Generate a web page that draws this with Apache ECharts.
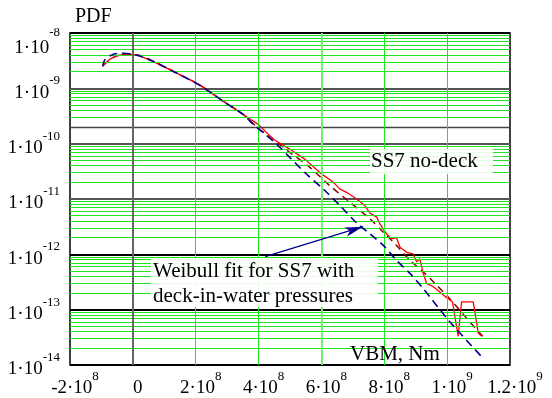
<!DOCTYPE html>
<html><head><meta charset="utf-8">
<script src="https://cdn.jsdelivr.net/npm/echarts@6/dist/echarts.min.js"></script>
<style>html,body{margin:0;padding:0;background:#fff}#c{width:552px;height:398px}</style>
</head><body><div id="c"></div>
<script>
// ---- data ----
const xTickMain = ['-2·10','0','2·10','4·10','6·10','8·10','1·10','1.2·10'];
const xTickExp  = ['8','','8','8','8','8','9','9'];
const yTickMain = '1·10';
const yDecades = [-14,-13,-12,-11,-10,-9,-8];

const redX = [-9.2e7,-7.3e7,-5.2e7,-2.0e7,1.2e7,5.4e7,1.08e8,1.60e8,2.13e8,2.88e8,3.51e8,3.99e8,4.47e8,5.0e8,5.48e8,5.95e8,6.38e8,6.59e8,6.80e8,7.12e8,7.38e8,7.54e8,7.76e8,7.86e8,8.07e8,8.23e8,8.39e8,8.50e8,8.71e8,8.92e8,9.03e8,9.13e8,9.24e8,9.35e8,9.56e8,9.96e8,1.017e9,1.035e9,1.046e9,1.083e9,1.099e9,1.110e9];
const redY = [2.66e-9,3.37e-9,3.86e-9,4.18e-9,4.02e-9,3.27e-9,2.32e-9,1.64e-9,1.16e-9,5.83e-10,3.37e-10,2.23e-10,1.20e-10,7.9e-11,5.2e-11,3.0e-11,2.0e-11,1.51e-11,1.32e-11,1.0e-11,7.6e-12,5.6e-12,4.7e-12,3.56e-12,2.35e-12,1.9e-12,2.0e-12,1.34e-12,1.09e-12,1.02e-12,7.3e-13,8.3e-13,4.5e-13,2.97e-13,2.6e-13,1.7e-13,1.38e-13,3.3e-14,1.38e-13,1.38e-13,3.8e-14,3.3e-14];

const blueX = [-9.6e7,-8.9e7,-6.7e7,-4.1e7,-9e6,3.3e7,7.6e7,1.29e8,2.13e8,2.88e8,3.51e8,3.83e8,4.15e8,4.58e8,5.0e8,5.53e8,6.06e8,6.59e8,7.12e8,7.54e8,7.97e8,8.39e8,8.82e8,9.24e8,1.007e9,1.113e9];
const blueY = [2.48e-9,3.27e-9,4.02e-9,4.31e-9,4.2e-9,3.66e-9,2.86e-9,2.02e-9,1.13e-9,5.8e-10,3.37e-10,2.22e-10,1.58e-10,9.7e-11,5.6e-11,2.8e-11,1.51e-11,7.6e-12,3.7e-12,2.35e-12,1.45e-12,7.8e-13,4.5e-13,2.4e-13,6.2e-14,1.35e-14];

const drX = [-9.4e7,-7e7,-4.5e7,-1.5e7,2e7,6e7,1.1e8,1.6e8,2.13e8,2.88e8,3.51e8,4.04e8,4.42e8,4.79e8,5.0e8,5.64e8,6.27e8,6.91e8,7.54e8,7.97e8,8.39e8,8.82e8,9.24e8,9.56e8,1.007e9,1.070e9,1.113e9];
const drY = [2.6e-9,3.4e-9,3.95e-9,4.2e-9,3.95e-9,3.2e-9,2.3e-9,1.64e-9,1.15e-9,5.8e-10,3.37e-10,1.8e-10,1.28e-10,8.5e-11,6.9e-11,3.7e-11,1.73e-11,8.7e-12,4.4e-12,2.5e-12,1.45e-12,7.8e-13,4.8e-13,3.2e-13,1.6e-13,6.2e-14,3.3e-14];

const arrowFrom = [4.21e8, 9.1e-13];
const arrowTo = [7.32e8, 3.16e-12];

// ---- build ----
const F = 'Liberation Serif';
const XMIN = -2e8, XMAX = 1.2e9;
const zip = (a,b)=>a.map((v,i)=>[v,b[i]]);
const GREEN = '#1ee61e';
const gridLines = [];
const hline = (v, st) => gridLines.push([{coord:[XMIN,v], lineStyle:st},{coord:[XMAX,v]}]);
for (let e=-14; e<-8; e++) {
  for (let m=2; m<=9; m++) {
    const v = m*Math.pow(10,e);
    let st = {color:GREEN,width:1,type:'solid'};
    if (e===-10 && m===2) st = {color:'#444',width:1.3,type:'solid'};
    hline(v, st);
  }
}
const vline = (v, st) => gridLines.push([{coord:[v,1e-14], lineStyle:st},{coord:[v,1e-8]}]);
[2e8,4e8,6e8,8e8,1e9].forEach(v=>vline(v,{color: v===6e8?'#70ee70':GREEN, width: v===6e8?2:1, type:'solid'}));
vline(0,{color:'#666',width:2,type:'solid'});
// decade line colours, bottom (1e-14) to top (1e-8)
const decadeColors = ['#000','#000','#000','#555','#555','#555','#000'];

const richBase = {
  m:{fontFamily:F,fontSize:19,color:'#000',lineHeight:28,verticalAlign:'bottom'},
  s:{fontFamily:F,fontSize:13,color:'#000',lineHeight:14,verticalAlign:'top'}
};
const richY = Object.assign({}, richBase, {
  mt:{fontFamily:F,fontSize:19,color:'#000',lineHeight:50,verticalAlign:'bottom'},
  st:{fontFamily:F,fontSize:13,color:'#000',lineHeight:14,verticalAlign:'middle'}
});

const chart = echarts.init(document.getElementById('c'));
chart.setOption({
  animation:false,
  grid:{left:70,right:42,top:33,bottom:31,show:true,borderColor:'#000',borderWidth:1.5,backgroundColor:'transparent'},
  xAxis:{type:'value',min:XMIN,max:XMAX,interval:2e8,
    axisLine:{show:false},axisTick:{show:false},splitLine:{show:false},
    axisLabel:{margin:5,padding:[0,0,0,10],formatter:(v)=>{const i=Math.round((v-XMIN)/2e8);const e=xTickExp[i];return e?`{m|${xTickMain[i]}}{s|${e}}`:`{m|${xTickMain[i]}}`;},rich:richBase}},
  yAxis:{type:'log',logBase:10,min:1e-14,max:1e-8,interval:1,
    axisLine:{show:false},axisTick:{show:false},
    splitLine:{show:true,lineStyle:{color:decadeColors,width:1.8,type:'solid'}},
    axisLabel:{margin:10,formatter:(v)=>{const e=Math.round(Math.log10(v));if(e===-8)return `{mt|${yTickMain}}{st|${e}}`;return `{m|${yTickMain}}{s|${e}}`;},rich:richY}},
  series:[
    {type:'line',data:zip(redX,redY),z:1,silent:true,showSymbol:false,lineStyle:{opacity:0},
      markLine:{silent:true,symbol:'none',label:{show:false},animation:false,data:gridLines}},
    {type:'line',name:'darkred',data:zip(drX,drY),showSymbol:false,smooth:0.3,z:3,lineStyle:{color:'#8b0000',width:1.5,type:[7,5]}},
    {type:'line',name:'red',data:zip(redX,redY),showSymbol:false,z:4,lineStyle:{color:'#ff0000',width:1.3}},
    {type:'line',name:'blue',data:zip(blueX,blueY),showSymbol:false,smooth:0.3,z:5,lineStyle:{color:'#000090',width:1.6,type:[8,5]},
      markLine:{silent:true,symbol:['none','arrow'],symbolSize:[7,18],label:{show:false},
        lineStyle:{color:'#000090',width:1.3,type:'solid'},
        data:[[{coord:arrowFrom},{coord:arrowTo}]]}}
  ],
  graphic:[
    {type:'text',left:75,top:7,style:{text:'PDF',font:'20px "Liberation Serif"',fill:'#000'}},
    {type:'text',left:350,top:344,z:10,style:{text:'VBM, Nm',font:'21px "Liberation Serif"',fill:'#000'}},
    {type:'rect',left:370,top:149,z:10,shape:{width:123,height:25},style:{fill:'rgba(255,255,255,0.88)'}},
    {type:'text',left:371,top:151,z:11,style:{text:'SS7 no-deck',font:'21px "Liberation Serif"',fill:'#000'}},
    {type:'rect',left:151,top:258,z:10,shape:{width:227,height:49},style:{fill:'rgba(255,255,255,0.9)'}},
    {type:'text',left:153,top:259,z:11,style:{text:'Weibull fit for SS7 with\ndeck-in-water pressures',font:'21px "Liberation Serif"',lineHeight:25,fill:'#000'}}
  ]
});
</script></body></html>
